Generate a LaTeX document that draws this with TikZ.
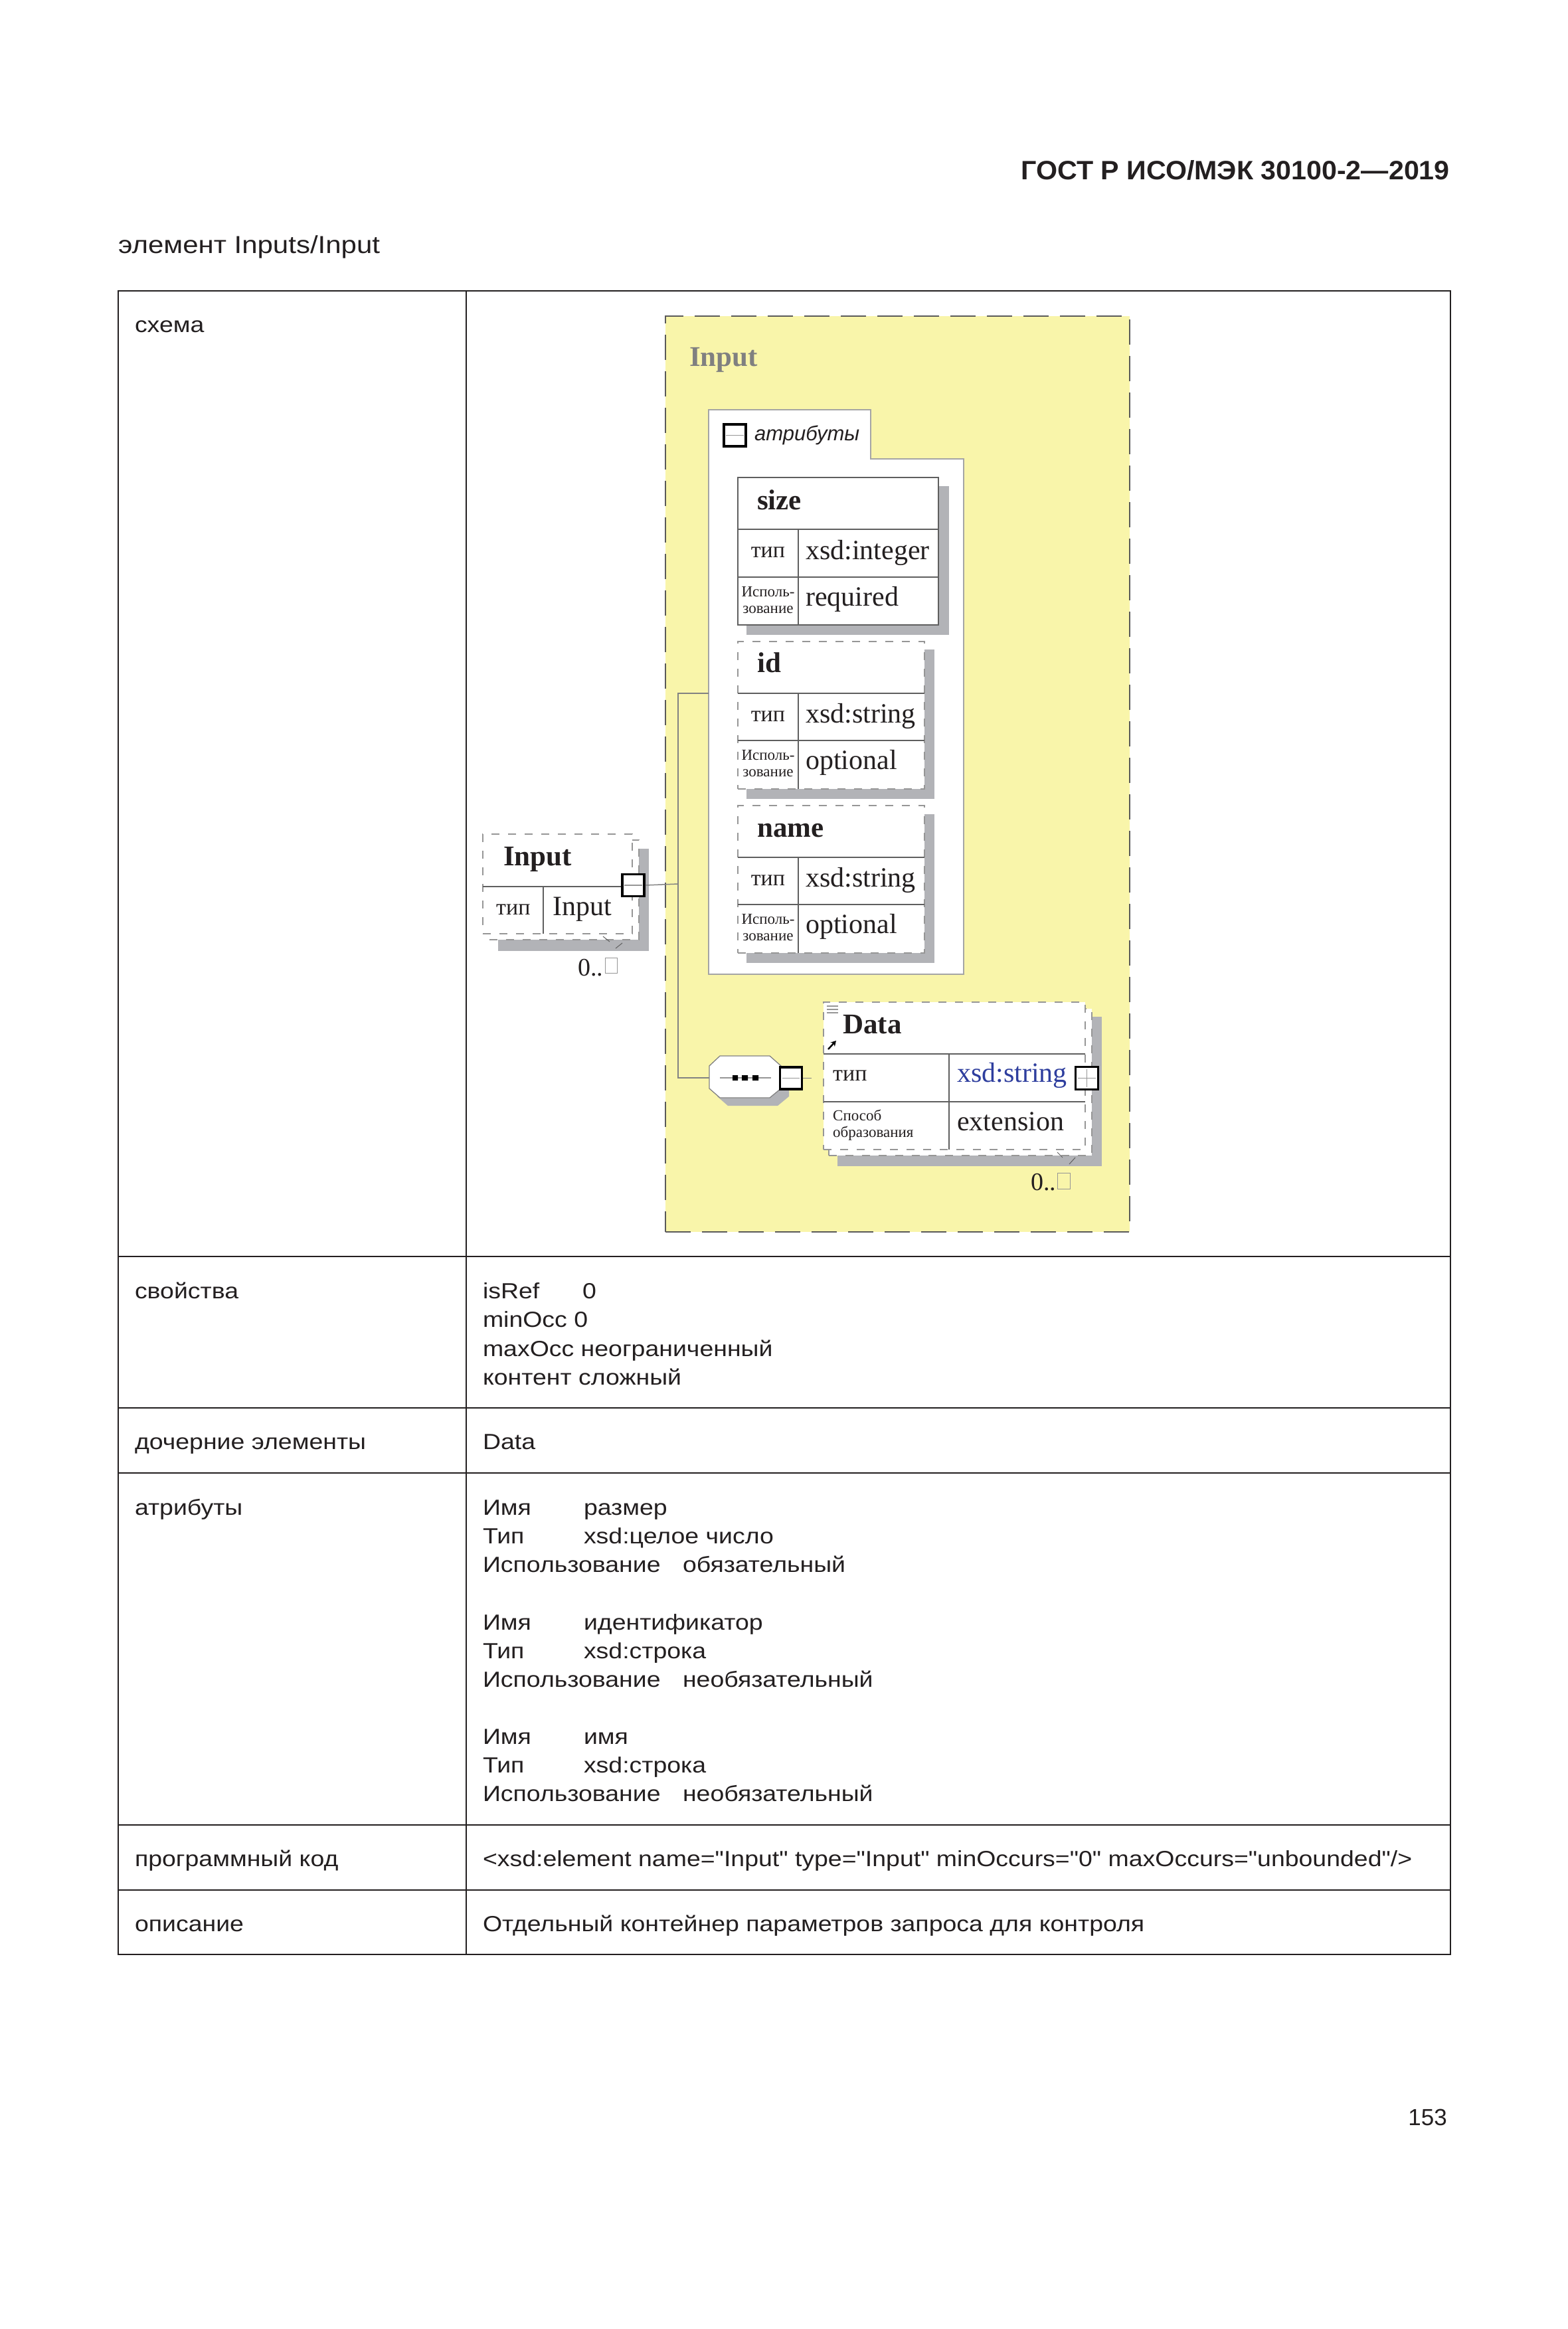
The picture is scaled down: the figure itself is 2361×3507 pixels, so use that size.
\documentclass[tikz,border=0pt]{standalone}
\usepackage{fontspec}
\setmainfont{Liberation Serif}
\newfontfamily\tblfont[FakeStretch=1.135]{Liberation Sans}
\newfontfamily\hdrfont[FakeStretch=1.03]{Liberation Sans}
\newfontfamily\pgfont{Liberation Sans}
\usetikzlibrary{arrows.meta}
\definecolor{pageyellow}{RGB}{249,245,170}
\definecolor{shadowgray}{RGB}{178,179,183}
\definecolor{dashgray}{RGB}{150,150,150}
\definecolor{linegray}{RGB}{95,95,95}
\definecolor{bordergray}{RGB}{90,90,90}
\definecolor{panelgray}{RGB}{165,165,165}
\definecolor{conngray}{RGB}{130,130,130}
\definecolor{innergray}{RGB}{150,150,150}
\definecolor{inkblack}{RGB}{35,31,32}
\definecolor{xsdblue}{RGB}{46,62,158}
\definecolor{titlegray}{RGB}{128,128,128}
\begin{document}
\begin{tikzpicture}[x=1pt,y=-1pt,
  tbl/.style={anchor=base west, inner sep=0pt, outer sep=0pt, text=inkblack, font=\tblfont\fontsize{33}{38}\selectfont},
  tblline/.style={draw=inkblack, line width=2.8pt},
  val/.style={anchor=base west, inner sep=0pt, text=inkblack, font=\fontsize{42}{48}\selectfont},
  bname/.style={anchor=base west, inner sep=0pt, text=inkblack, font=\bfseries\fontsize{43}{48}\selectfont},
  lab/.style={anchor=base, inner sep=0pt, text=inkblack, font=\fontsize{34}{40}\selectfont},
  smalllab/.style={anchor=base, inner sep=0pt, text=inkblack, font=\fontsize{23}{25}\selectfont},
  shbox/.style={anchor=north west, inner sep=0pt, outer sep=0pt, fill=shadowgray, draw=none},
  solidbox/.style={anchor=north west, inner sep=0pt, outer sep=0pt, fill=white, draw=linegray, line width=1.3pt},
  dashbox/.style={anchor=north west, inner sep=0pt, outer sep=0pt, fill=white, draw=dashgray, line width=1.5pt, dash pattern=on 12pt off 13pt},
  rowline/.style={draw=linegray, line width=1.3pt},
  sq/.style={draw=black, line width=3.5pt, fill=white, inner sep=0pt, minimum size=33pt},
  inner/.style={draw=innergray, line width=1.3pt},
  conn/.style={draw=conngray, line width=1.5pt},
  tick/.style={draw=linegray, line width=1pt},
  mult/.style={anchor=base west, inner sep=0pt, text=inkblack, font=\fontsize{38}{44}\selectfont},
  multbox/.style={draw=innergray, line width=1pt}
]
\fill[white] (0,0) rectangle (2361,3507);
\path[use as bounding box] (0,0) rectangle (2361,3507);

% page header
\node[anchor=base east, inner sep=0pt, text=inkblack, font=\hdrfont\bfseries\fontsize{40}{44}\selectfont] (hdr) at (2183,270) {ГОСТ Р ИСО/МЭК 30100-2—2019};
\node[tbl, font=\tblfont\fontsize{37}{42}\selectfont] (cap) at (178,381) {элемент Inputs/Input};

% table
\draw[tblline] (178,438) rectangle (2184,2943);
\foreach \yy in {1892,2120,2218,2748,2846} \draw[tblline] (178,\yy) -- (2184,\yy);
\draw[tblline] (702,438) -- (702,2943);

\node[tbl] (r1) at (203,500) {схема};
\node[tbl] (r2) at (203,1955) {свойства};
\node[tbl] (r3) at (203,2182) {дочерние элементы};
\node[tbl] (r4) at (203,2281) {атрибуты};
\node[tbl] (r5) at (203,2810) {программный код};
\node[tbl] (r6) at (203,2908) {описание};

\node[tbl] (p1) at (727,1955) {isRef};
\node[tbl] (p1v) at (877,1955) {0};
\node[tbl] (p2) at (727,1998) {minOcc 0};
\node[tbl] (p3) at (727,2042) {maxOcc неограниченный};
\node[tbl] (p4) at (727,2085) {контент сложный};

\node[tbl] (ch) at (727,2182) {Data};

\node[tbl] (a1) at (727,2281) {Имя};
\node[tbl] (a1v) at (879,2281) {размер};
\node[tbl] (a2) at (727,2324) {Тип};
\node[tbl] (a2v) at (879,2324) {xsd:целое число};
\node[tbl] (a3) at (727,2367) {Использование};
\node[tbl] (a3v) at (1028,2367) {обязательный};
\node[tbl] (b1) at (727,2454) {Имя};
\node[tbl] (b1v) at (879,2454) {идентификатор};
\node[tbl] (b2) at (727,2497) {Тип};
\node[tbl] (b2v) at (879,2497) {xsd:строка};
\node[tbl] (b3) at (727,2540) {Использование};
\node[tbl] (b3v) at (1028,2540) {необязательный};
\node[tbl] (c1) at (727,2626) {Имя};
\node[tbl] (c1v) at (879,2626) {имя};
\node[tbl] (c2) at (727,2669) {Тип};
\node[tbl] (c2v) at (879,2669) {xsd:строка};
\node[tbl] (c3) at (727,2712) {Использование};
\node[tbl] (c3v) at (1028,2712) {необязательный};

\node[tbl] (code) at (727,2810) {<xsd:element name="Input" type="Input" minOccurs="0" maxOccurs="unbounded"/>};
\node[tbl] (desc) at (727,2908) {Отдельный контейнер параметров запроса для контроля};

\node[anchor=base east, inner sep=0pt, text=inkblack, font=\pgfont\fontsize{35}{40}\selectfont] (pg) at (2179,3200) {153};

% ---------- diagram ----------
\node[anchor=north west, inner sep=0pt, outer sep=0pt, fill=pageyellow, draw=bordergray, line width=2.5pt, dash pattern=on 38pt off 17pt, minimum width=699pt, minimum height=1379pt] (cplx) at (1002,476) {};
\node[anchor=base west, inner sep=0pt, text=titlegray, font=\bfseries\fontsize{43}{48}\selectfont] (ttl) at (1038,551) {Input};

% connectors
\coordinate (jIn) at (1021,1331);
\coordinate (jTop) at (1021,1044);
\coordinate (jBot) at (1021,1623);
\coordinate (attrW) at (1067,1044);
\coordinate (dataStub) at (1222,1623.5);

% attribute panel
\draw[fill=white, draw=panelgray, line width=1.5pt] (1067,617) -- (1311,617) -- (1311,691) -- (1451,691) -- (1451,1467) -- (1067,1467) -- cycle;
\node[sq] (attrChk) at (1106.5,655.5) {};
\draw[inner] ([xshift=5pt]attrChk.west) -- ([xshift=-5pt]attrChk.east);
\node[anchor=base west, inner sep=0pt, text=inkblack, font=\pgfont\itshape\fontsize{31}{36}\selectfont] (attrTxt) at (1136,663) {атрибуты};

% size
\node[shbox, minimum width=305pt, minimum height=224pt] (sizeSh) at (1124,732) {};
\node[solidbox, minimum width=302pt, minimum height=222pt] (sizeBox) at (1111,719) {};
\draw[rowline] (1111,797) -- (1413,797) (1111,869) -- (1413,869) (1202,797) -- (1202,941);
\node[bname] (sizeN) at (1140,767) {size};
\node[lab] (sizeT) at (1156.5,839) {тип};
\node[val] (sizeV) at (1213,842) {xsd:integer};
\node[smalllab] (sizeU1) at (1156.5,898) {Исполь-};
\node[smalllab] (sizeU2) at (1156.5,923) {зование};
\node[val] (sizeU) at (1213,912) {required};

% id
\node[shbox, minimum width=283pt, minimum height=225pt] (idSh) at (1124,978) {};
\node[dashbox, minimum width=281pt, minimum height=222pt] (idBox) at (1111,966) {};
\draw[rowline] (1111,1044) -- (1392,1044) (1111,1115) -- (1392,1115) (1202,1044) -- (1202,1188);
\node[bname] (idN) at (1140,1012) {id};
\node[lab] (idT) at (1156.5,1086) {тип};
\node[val] (idV) at (1213,1088) {xsd:string};
\node[smalllab] (idU1) at (1156.5,1144) {Исполь-};
\node[smalllab] (idU2) at (1156.5,1169) {зование};
\node[val] (idU) at (1213,1158) {optional};

% name
\node[shbox, minimum width=283pt, minimum height=224pt] (nameSh) at (1124,1226) {};
\node[dashbox, minimum width=281pt, minimum height=222pt] (nameBox) at (1111,1213) {};
\draw[rowline] (1111,1291) -- (1392,1291) (1111,1362) -- (1392,1362) (1202,1291) -- (1202,1435);
\node[bname] (nameN) at (1140,1260) {name};
\node[lab] (nameT) at (1156.5,1333) {тип};
\node[val] (nameV) at (1213,1335) {xsd:string};
\node[smalllab] (nameU1) at (1156.5,1391) {Исполь-};
\node[smalllab] (nameU2) at (1156.5,1416) {зование};
\node[val] (nameU) at (1213,1405) {optional};

% Input element
\node[shbox, minimum width=227pt, minimum height=154pt] (inSh) at (750,1278) {};
\node[dashbox, minimum width=225pt, minimum height=150pt] (inBack) at (737,1265) {};
\node[dashbox, minimum width=225pt, minimum height=150pt] (inBox) at (727,1256) {};
\draw[rowline] (727,1335) -- (952,1335) (818,1335) -- (818,1406);
\node[bname] (inN) at (758,1303) {Input};
\node[lab, anchor=base west] (inT) at (747,1377) {тип};
\node[val] (inV) at (832,1378) {Input};
\node[sq] (sqIn) at (953.5,1333) {};
\draw[inner] ([xshift=5pt]sqIn.west) -- ([xshift=-5pt]sqIn.east);
\draw[tick] (908,1410) -- (918,1418) (927,1428) -- (937,1420);
\node[mult] (inM) at (870,1469) {0..};
\draw[multbox] (911,1442) rectangle (929,1465);

% sequence compositor
\fill[shadowgray] (1096,1602) -- (1171,1602) -- (1188,1617) -- (1188,1651) -- (1171,1665) -- (1096,1665) -- (1080,1651) -- (1080,1617) -- cycle;
\draw[fill=white, draw=conngray, line width=1.3pt] (1084,1590) -- (1159,1590) -- (1176,1605) -- (1176,1639) -- (1159,1653) -- (1084,1653) -- (1068,1639) -- (1068,1605) -- cycle;
\node[inner sep=0pt, outer sep=0pt, minimum width=108pt, minimum height=63pt] (seq) at (1122,1621.5) {};
\draw[inner] (1084,1623) -- (1161,1623);
\fill[black] (1103,1619) rectangle (1111,1627) (1117,1619) rectangle (1126,1627) (1133,1619) rectangle (1142,1627);
\node[sq] (sqSeq) at (1191,1623.5) {};
\draw[inner] ([xshift=5pt]sqSeq.west) -- ([xshift=-5pt]sqSeq.east);

% Data element
\node[shbox, minimum width=398pt, minimum height=225pt] (dataSh) at (1261,1531) {};
\node[dashbox, minimum width=396pt, minimum height=221pt] (dataBack) at (1248,1519) {};
\node[dashbox, minimum width=394pt, minimum height=222pt] (dataBox) at (1240,1509) {};
\draw[rowline] (1240,1587) -- (1634,1587) (1240,1659) -- (1634,1659) (1429,1587) -- (1429,1731);
\draw[inner] (1245,1515) -- (1262,1515) (1245,1520) -- (1262,1520) (1245,1525) -- (1262,1525);
\draw[-{Stealth[length=8pt,width=9pt]}, line width=2.4pt, black] (1247,1580) -- (1259,1567);
\node[bname] (dataN) at (1269,1556) {Data};
\node[lab, anchor=base west] (dataT) at (1254,1627) {тип};
\node[val, text=xsdblue] (dataV) at (1441,1629) {xsd:string};
\node[smalllab, anchor=base west] (dataD1) at (1254,1687) {Способ};
\node[smalllab, anchor=base west] (dataD2) at (1254,1712) {образования};
\node[val] (dataE) at (1441,1702) {extension};
\node[sq, minimum size=34pt] (sqData) at (1636.5,1623.5) {};
\draw[inner] ([xshift=5pt]sqData.west) -- ([xshift=-5pt]sqData.east) ([yshift=-5pt]sqData.north) -- ([yshift=5pt]sqData.south);
\draw[tick] (1592,1735) -- (1600,1743) (1610,1753) -- (1619,1743);
\node[mult] (dataM) at (1552,1792) {0..};
\draw[multbox] (1592,1766) rectangle (1611,1790);

% connector lines
\draw[conn] (sqIn.east) -- (jIn);
\draw[conn] (attrW) -- (jTop) -- (jBot) -- (seq.west |- jBot);
\draw[conn] (sqSeq.east) -- (dataStub);
\end{tikzpicture}
\end{document}
